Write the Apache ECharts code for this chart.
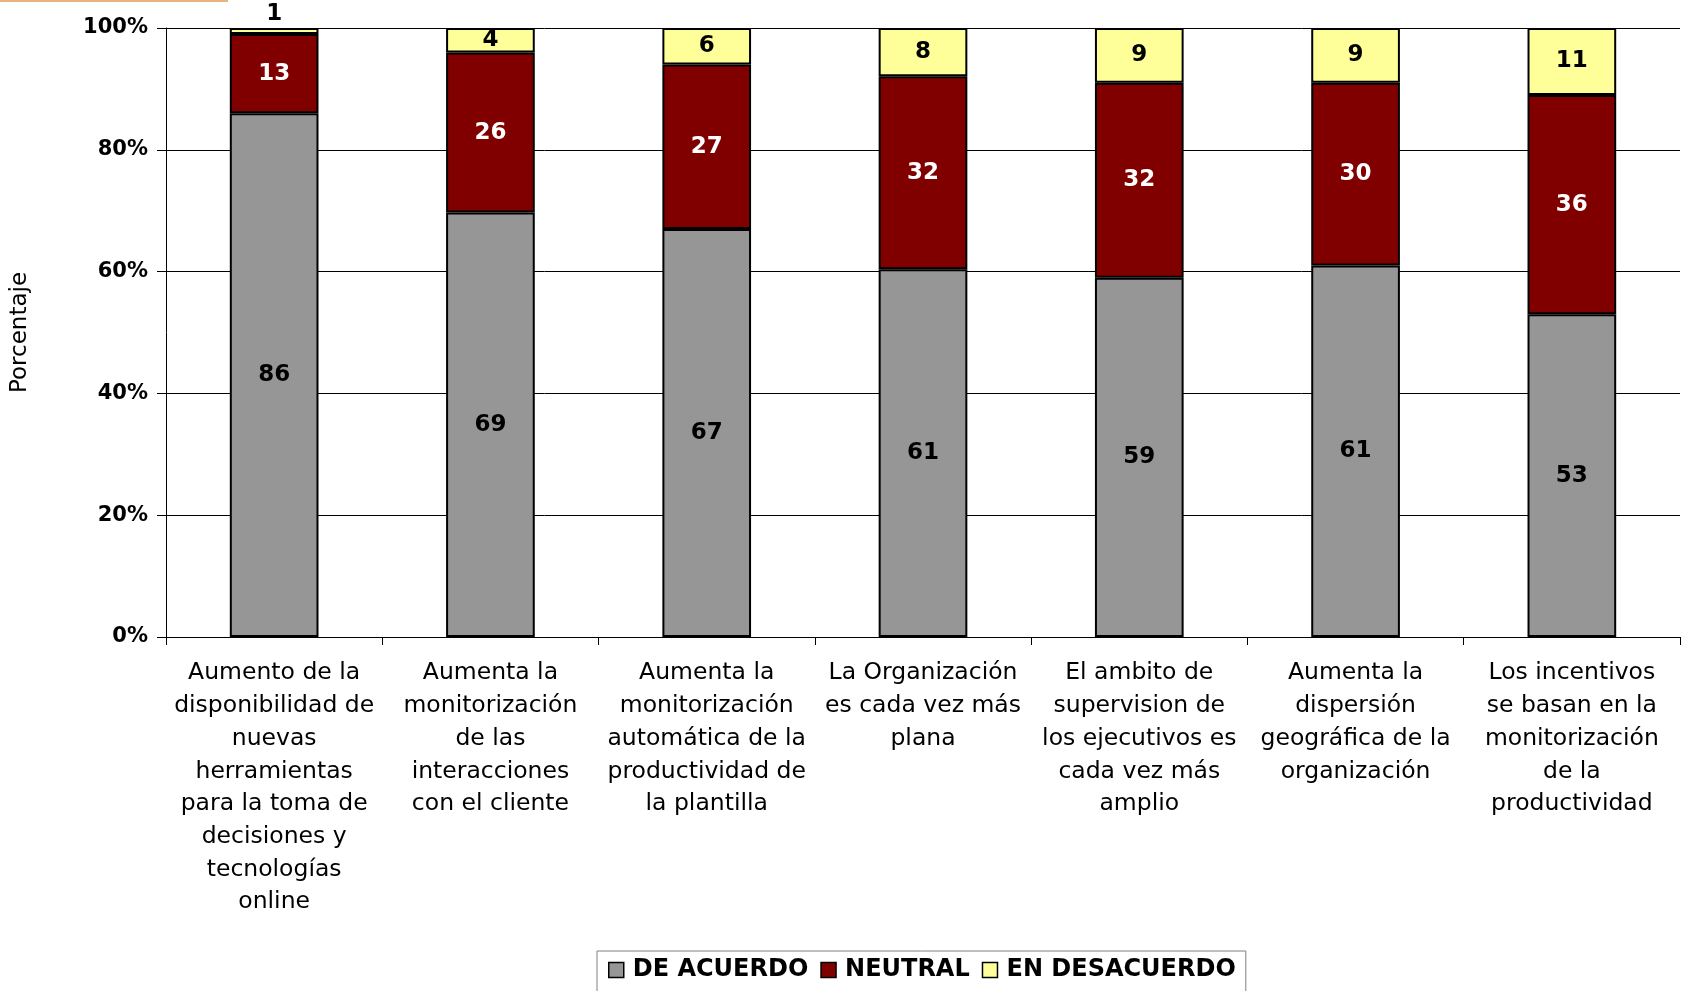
<!DOCTYPE html>
<html>
<head>
<meta charset="utf-8">
<title>Factores</title>
<script src="https://cdn.jsdelivr.net/npm/echarts@6/dist/echarts.min.js"></script>
<style>
  html, body { margin: 0; padding: 0; background: #fff; }
  #chart { width: 1682px; height: 991px; }
</style>
</head>
<body>
<div id="chart"></div>
<script>
// categorias (saltos de linea como en el original)
var categorias = [
  'Aumento de la\ndisponibilidad de\nnuevas\nherramientas\npara la toma de\ndecisiones y\ntecnologías\nonline',
  'Aumenta la\nmonitorización\nde las\ninteracciones\ncon el cliente',
  'Aumenta la\nmonitorización\nautomática de la\nproductividad de\nla plantilla',
  'La Organización\nes cada vez más\nplana',
  'El ambito de\nsupervision de\nlos ejecutivos es\ncada vez más\namplio',
  'Aumenta la\ndispersión\ngeográfica de la\norganización',
  'Los incentivos\nse basan en la\nmonitorización\nde la\nproductividad'
]
var deAcuerdo = [86, 69, 67, 61, 59, 61, 53]
var neutral = [13, 26, 27, 32, 32, 30, 36]
var enDesacuerdo = [1, 4, 6, 8, 9, 9, 11]
var ticksY = ['0%', '20%', '40%', '60%', '80%', '100%']

var fuente = 'DejaVu Sans'

// 100% apilado: cada columna se normaliza a su total
function aPorcentaje(arr, idx) {
  return arr.map(function (v, i) {
    var total = deAcuerdo[i] + neutral[i] + enDesacuerdo[i]
    var item = { value: v / total * 100, raw: v }
    // la etiqueta del 1 no cabe, va encima
    if (idx === 2 && v < 3) {
      item.label = { position: 'top', distance: 2 }
    }
    return item
  })
}

function serie(nombre, arr, idx, color, colorTexto) {
  return {
    name: nombre,
    type: 'bar',
    stack: 'total',
    barWidth: '41%',
    data: aPorcentaje(arr, idx),
    itemStyle: { color: color, borderColor: '#000', borderWidth: 2 },
    label: {
      show: true,
      position: 'inside',
      color: colorTexto,
      fontFamily: fuente,
      fontWeight: 'bold',
      fontSize: 23,
      formatter: function (p) { return p.data.raw }
    },
    emphasis: { disabled: true }
  }
}

var myChart = echarts.init(document.getElementById('chart'))
var option = {
  animation: false,
  backgroundColor: '#fff',
  graphic: [{
    type: 'rect',
    shape: { x: 0, y: 0, width: 228, height: 2 },
    style: { fill: '#E8B47E' }
  }],
  grid: { left: 166, right: 2, top: 28, bottom: 354 },
  legend: {
    left: 597,
    top: 951,
    padding: [7, 10, 20, 11],
    borderColor: '#808080',
    borderWidth: 1,
    itemWidth: 15,
    itemHeight: 15,
    itemGap: 12,
    icon: 'rect',
    itemStyle: { borderWidth: 1.5 },
    textStyle: {
      fontFamily: fuente, fontWeight: 'bold', fontSize: 24, color: '#000',
      padding: [0, 0, 0, 4]
    },
    data: ['DE ACUERDO', 'NEUTRAL', 'EN DESACUERDO']
  },
  xAxis: {
    type: 'category',
    data: categorias,
    axisLine: { lineStyle: { color: '#000', width: 1 } },
    axisTick: { show: true, length: 8, lineStyle: { color: '#000' } },
    axisLabel: {
      interval: 0,
      margin: 20,
      fontFamily: fuente,
      fontSize: 23.5,
      lineHeight: 32.7,
      color: '#000',
      align: 'center'
    }
  },
  yAxis: {
    type: 'value',
    min: 0,
    max: 100,
    interval: 20,
    name: 'Porcentaje',
    nameLocation: 'middle',
    nameRotate: 90,
    nameGap: 134,
    nameTextStyle: { fontFamily: fuente, fontSize: 23, color: '#000' },
    axisLine: { show: true, lineStyle: { color: '#000', width: 1 } },
    axisTick: { show: true, length: 9, lineStyle: { color: '#000' } },
    splitLine: { show: true, lineStyle: { color: '#000', width: 1 } },
    axisLabel: {
      margin: 18,
      fontFamily: fuente,
      fontWeight: 'bold',
      fontSize: 21,
      color: '#000',
      formatter: function (v) { return ticksY[v / 20] }
    }
  },
  series: [
    serie('DE ACUERDO', deAcuerdo, 0, '#969696', '#000'),
    serie('NEUTRAL', neutral, 1, '#800000', '#fff'),
    serie('EN DESACUERDO', enDesacuerdo, 2, '#FFFF99', '#000')
  ]
}
myChart.setOption(option)
</script>
</body>
</html>
